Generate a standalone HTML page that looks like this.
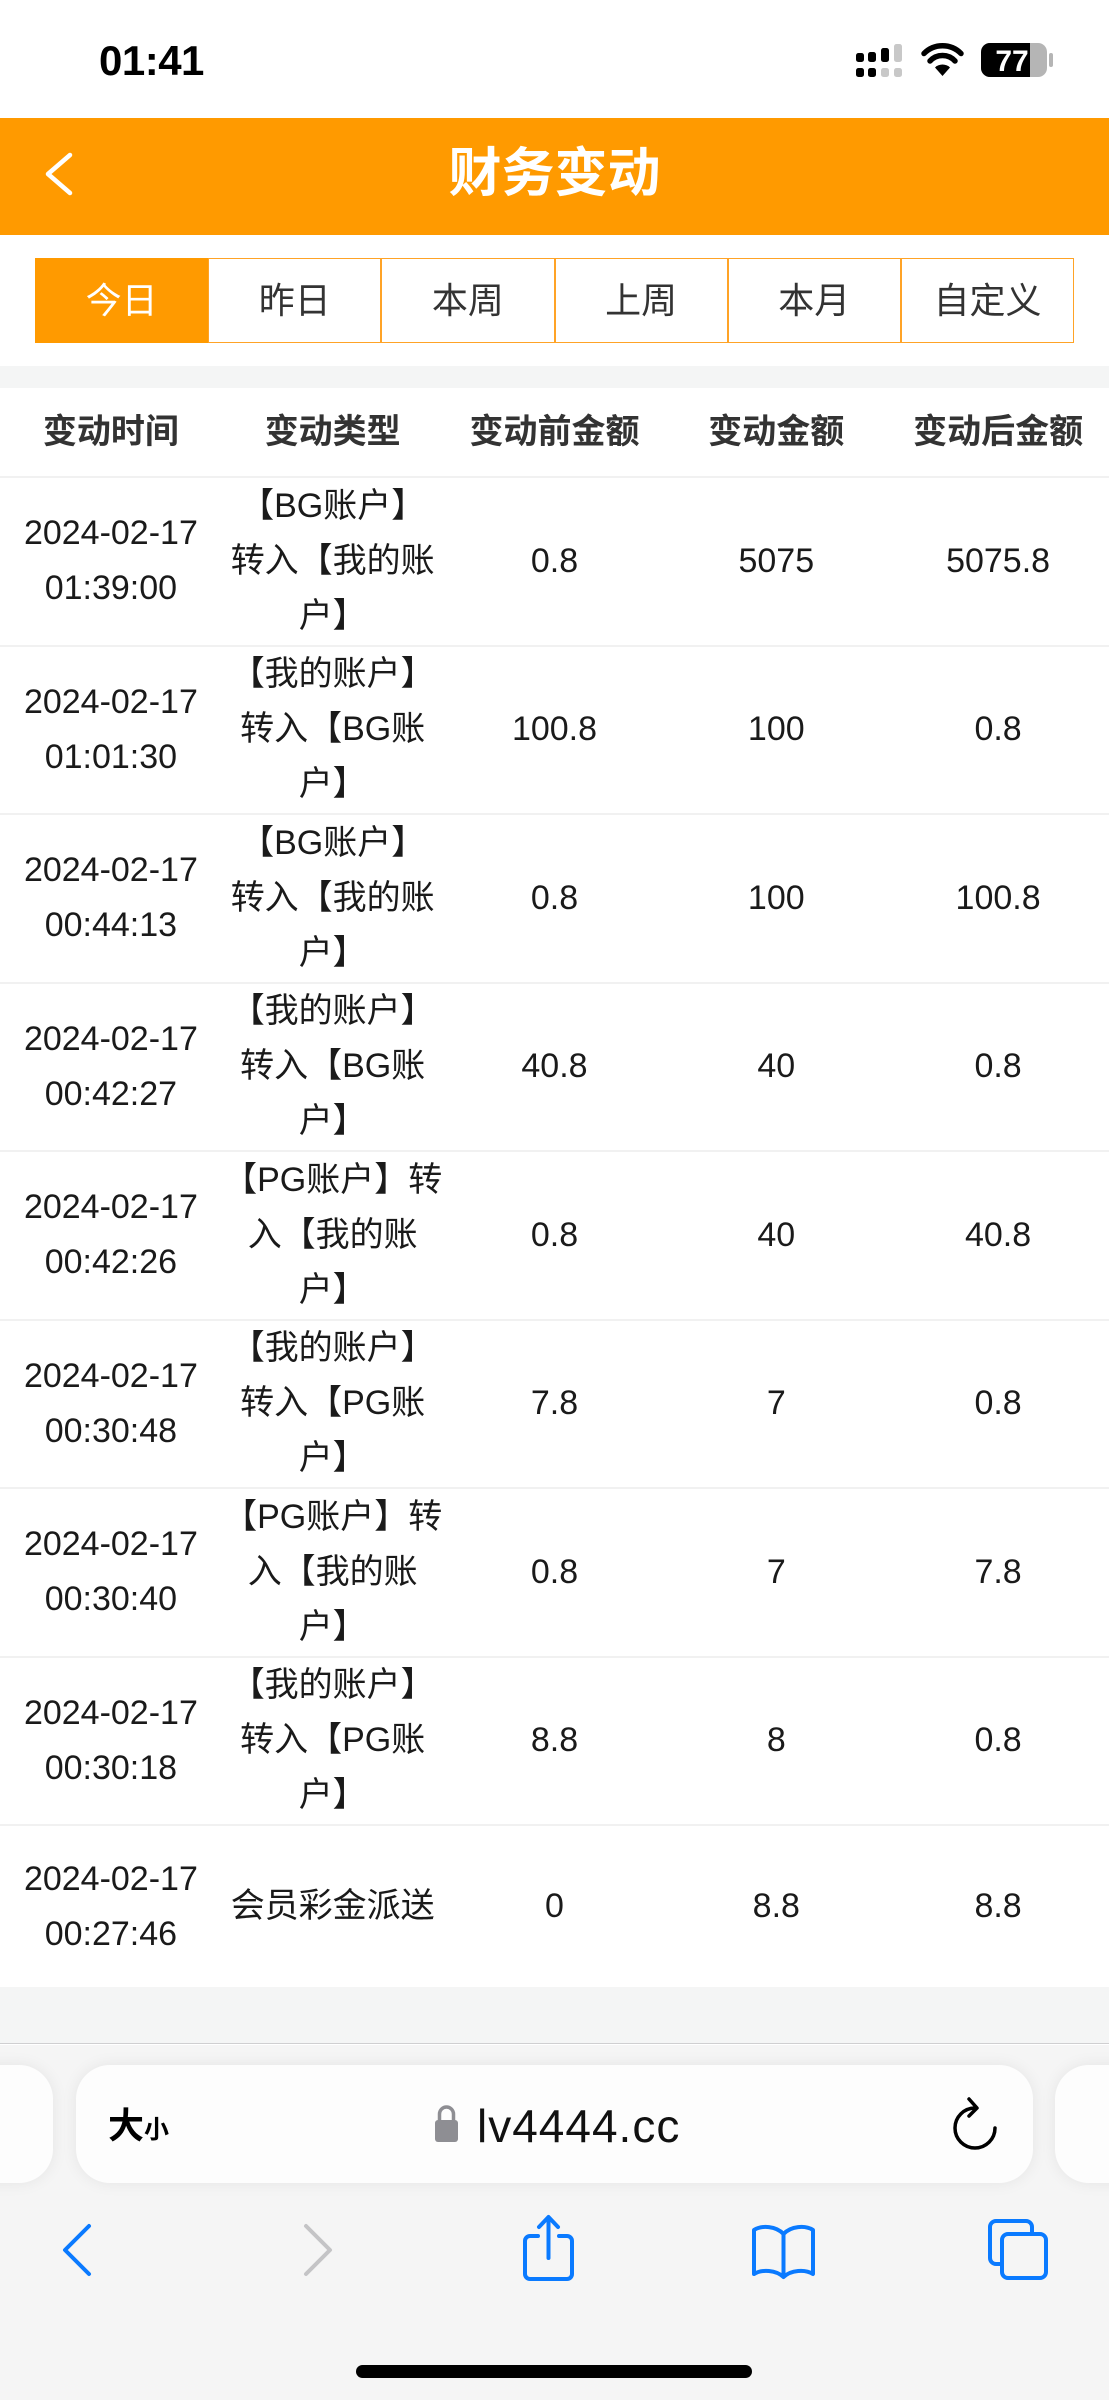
<!DOCTYPE html>
<html><head><meta charset="utf-8">
<style>
*{box-sizing:border-box;margin:0;padding:0}
html,body{width:1109px;height:2400px;overflow:hidden;background:#fff}
body{position:relative;font-family:"Liberation Sans","Noto Sans CJK SC",sans-serif;color:#1a1a1a}
.abs{position:absolute}
.time{left:99px;top:38px;font-size:42px;font-weight:bold;line-height:46px;color:#000;letter-spacing:-0.5px}
.hdr{left:0;top:118px;width:1109px;height:117px;background:#ff9a00}
.title{left:0;top:118px;width:1109px;height:112px;line-height:112px;text-align:center;color:#fff;font-size:53px;font-weight:bold}
.tabs{left:35px;top:258px;width:1039px;height:85px;display:flex}
.tab{flex:1;border:1.5px solid #ffa326;display:flex;align-items:center;justify-content:center;font-size:36px;color:#333;line-height:85px;background:#fff}
.tab.on{background:#ff9a00;color:#fff;border-color:#ff9a00}
.band{left:0;top:366px;width:1109px;height:22px;background:#f4f5f5}
.row{left:0;width:1109px;display:flex;border-bottom:2px solid #f1f1f1}
.cell{flex:1;display:flex;align-items:center;justify-content:center;text-align:center;font-size:34px;line-height:55px}
.th .cell{font-weight:bold;color:#333}
.foot{left:0;top:1987px;width:1109px;height:57px;background:#f4f5f5;border-bottom:1.5px solid #cfcfd1}
.bar{left:0;top:2045px;width:1109px;height:355px;background:#f5f5f5}
.pill{top:2065px;height:118px;border-radius:34px;background:#fdfdfd;box-shadow:0 0 16px rgba(0,0,0,0.07)}
.url{left:477px;top:2098px;font-size:46px;line-height:56px;color:#111;letter-spacing:1px}
.home{left:356px;top:2365px;width:396px;height:13px;border-radius:7px;background:#000}
</style></head>
<body>
<div class="abs time">01:41</div>
<svg class="abs" style="left:0;top:0" width="1109" height="110">
  <rect x="856" y="53" width="8" height="9" rx="2.5" fill="#000"/>
  <rect x="868" y="52" width="8" height="10" rx="2.5" fill="#000"/>
  <rect x="881" y="48" width="8" height="14" rx="2.5" fill="#000"/>
  <rect x="894" y="44" width="8" height="18" rx="2.5" fill="#c8c8c8"/>
  <rect x="856" y="68" width="8" height="9" rx="2.5" fill="#000"/>
  <rect x="868" y="68" width="8" height="9" rx="2.5" fill="#000"/>
  <rect x="881" y="68" width="8" height="9" rx="2.5" fill="#c8c8c8"/>
  <rect x="894" y="68" width="8" height="9" rx="2.5" fill="#c8c8c8"/>
  <path d="M942.5 76 L935 67.5 A11 11 0 0 1 950 67.5 Z" fill="#000"/>
  <path d="M930 61 A17 17 0 0 1 955 61" stroke="#000" stroke-width="5.5" fill="none" stroke-linecap="round"/>
  <path d="M924 53.5 A26 26 0 0 1 961 53.5" stroke="#000" stroke-width="5.5" fill="none" stroke-linecap="round"/>
  <defs><clipPath id="bc"><rect x="981" y="43" width="66" height="34" rx="9"/></clipPath></defs>
  <rect x="981" y="43" width="66" height="34" rx="9" fill="#b5b5b5"/>
  <rect x="981" y="43" width="49" height="34" fill="#000" clip-path="url(#bc)"/>
  <rect x="1049" y="53" width="4" height="14" rx="2" fill="#b5b5b5"/>
  <text x="1012" y="71" text-anchor="middle" font-family="Liberation Sans" font-weight="bold" font-size="30" fill="#fff">77</text>
</svg>

<div class="abs hdr"></div>
<svg class="abs" style="left:0;top:118px" width="120" height="117">
  <polyline points="70,37 48,56 70,75" stroke="#fff" stroke-width="4.5" fill="none" stroke-linecap="round" stroke-linejoin="round"/>
</svg>
<div class="abs title">财务变动</div>

<div class="abs tabs">
  <div class="tab on">今日</div>
  <div class="tab">昨日</div>
  <div class="tab">本周</div>
  <div class="tab">上周</div>
  <div class="tab">本月</div>
  <div class="tab">自定义</div>
</div>

<div class="abs band"></div>

<div class="abs row th" style="top:388px;height:90px">
  <div class="cell">变动时间</div><div class="cell">变动类型</div><div class="cell">变动前金额</div><div class="cell">变动金额</div><div class="cell">变动后金额</div>
</div>

<div class="abs row" style="top:478px;height:168.5px">
  <div class="cell">2024-02-17<br>01:39:00</div><div class="cell">【BG账户】<br>转入【我的账<br>户】</div><div class="cell">0.8</div><div class="cell">5075</div><div class="cell">5075.8</div>
</div>
<div class="abs row" style="top:646.5px;height:168.5px">
  <div class="cell">2024-02-17<br>01:01:30</div><div class="cell">【我的账户】<br>转入【BG账<br>户】</div><div class="cell">100.8</div><div class="cell">100</div><div class="cell">0.8</div>
</div>
<div class="abs row" style="top:815px;height:168.5px">
  <div class="cell">2024-02-17<br>00:44:13</div><div class="cell">【BG账户】<br>转入【我的账<br>户】</div><div class="cell">0.8</div><div class="cell">100</div><div class="cell">100.8</div>
</div>
<div class="abs row" style="top:983.5px;height:168.5px">
  <div class="cell">2024-02-17<br>00:42:27</div><div class="cell">【我的账户】<br>转入【BG账<br>户】</div><div class="cell">40.8</div><div class="cell">40</div><div class="cell">0.8</div>
</div>
<div class="abs row" style="top:1152px;height:168.5px">
  <div class="cell">2024-02-17<br>00:42:26</div><div class="cell">【PG账户】转<br>入【我的账<br>户】</div><div class="cell">0.8</div><div class="cell">40</div><div class="cell">40.8</div>
</div>
<div class="abs row" style="top:1320.5px;height:168.5px">
  <div class="cell">2024-02-17<br>00:30:48</div><div class="cell">【我的账户】<br>转入【PG账<br>户】</div><div class="cell">7.8</div><div class="cell">7</div><div class="cell">0.8</div>
</div>
<div class="abs row" style="top:1489px;height:168.5px">
  <div class="cell">2024-02-17<br>00:30:40</div><div class="cell">【PG账户】转<br>入【我的账<br>户】</div><div class="cell">0.8</div><div class="cell">7</div><div class="cell">7.8</div>
</div>
<div class="abs row" style="top:1657.5px;height:168.5px">
  <div class="cell">2024-02-17<br>00:30:18</div><div class="cell">【我的账户】<br>转入【PG账<br>户】</div><div class="cell">8.8</div><div class="cell">8</div><div class="cell">0.8</div>
</div>
<div class="abs row" style="top:1826px;height:161px;border-bottom:none">
  <div class="cell">2024-02-17<br>00:27:46</div><div class="cell">会员彩金派送</div><div class="cell">0</div><div class="cell">8.8</div><div class="cell">8.8</div>
</div>

<div class="abs foot"></div>
<div class="abs bar"></div>
<div class="abs pill" style="left:-60px;width:113px"></div>
<div class="abs pill" style="left:1055px;width:200px"></div>
<div class="abs pill" style="left:76px;width:957px"></div>

<div class="abs" style="left:108px;top:2098px;line-height:56px;color:#000;font-weight:bold"><span style="font-size:36px">大</span><span style="font-size:25px">小</span></div>
<svg class="abs" style="left:0;top:2090px" width="1109" height="70">
  <path d="M439.5 32 V24 A7 7 0 0 1 453.5 24 V32" stroke="#8e8e93" stroke-width="3.5" fill="none"/>
  <rect x="435" y="30" width="23" height="22" rx="3" fill="#8e8e93"/>
  <path d="M975 18 A20 20 0 1 0 995 38" stroke="#000" stroke-width="3.5" fill="none" stroke-linecap="round"/>
  <polyline points="969,9 977,18 969,26" stroke="#000" stroke-width="3.5" fill="none" stroke-linecap="round" stroke-linejoin="round"/>
</svg>
<div class="abs url">lv4444.cc</div>

<svg class="abs" style="left:0;top:2200px" width="1109" height="100">
  <polyline points="89,26 65,50 89,74" stroke="#0a7aff" stroke-width="4" fill="none" stroke-linecap="round" stroke-linejoin="round"/>
  <polyline points="306,26 330,50 306,74" stroke="#c4c4c6" stroke-width="4" fill="none" stroke-linecap="round" stroke-linejoin="round"/>
  <path d="M538 36 H530 A5 5 0 0 0 525 41 V74 A5 5 0 0 0 530 79 H567 A5 5 0 0 0 572 74 V41 A5 5 0 0 0 567 36 H559" stroke="#0a7aff" stroke-width="4" fill="none" stroke-linecap="round"/>
  <line x1="548.5" y1="18" x2="548.5" y2="58" stroke="#0a7aff" stroke-width="4" stroke-linecap="round"/>
  <polyline points="539,27 548.5,17 558,27" stroke="#0a7aff" stroke-width="4" fill="none" stroke-linecap="round" stroke-linejoin="round"/>
  <path d="M783.5 34 C776 26 762 25 754 30 V74 C762 69 776 70 783.5 77 C791 70 805 69 813 74 V30 C805 25 791 26 783.5 34 Z M783.5 34 V77" stroke="#0a7aff" stroke-width="4" fill="none" stroke-linejoin="round"/>
  <rect x="990" y="21" width="42" height="43" rx="6" stroke="#0a7aff" stroke-width="4" fill="#f5f5f5"/>
  <rect x="1002" y="34" width="44" height="44" rx="6" stroke="#0a7aff" stroke-width="4" fill="#f5f5f5"/>
</svg>

<div class="abs home"></div>
</body></html>
